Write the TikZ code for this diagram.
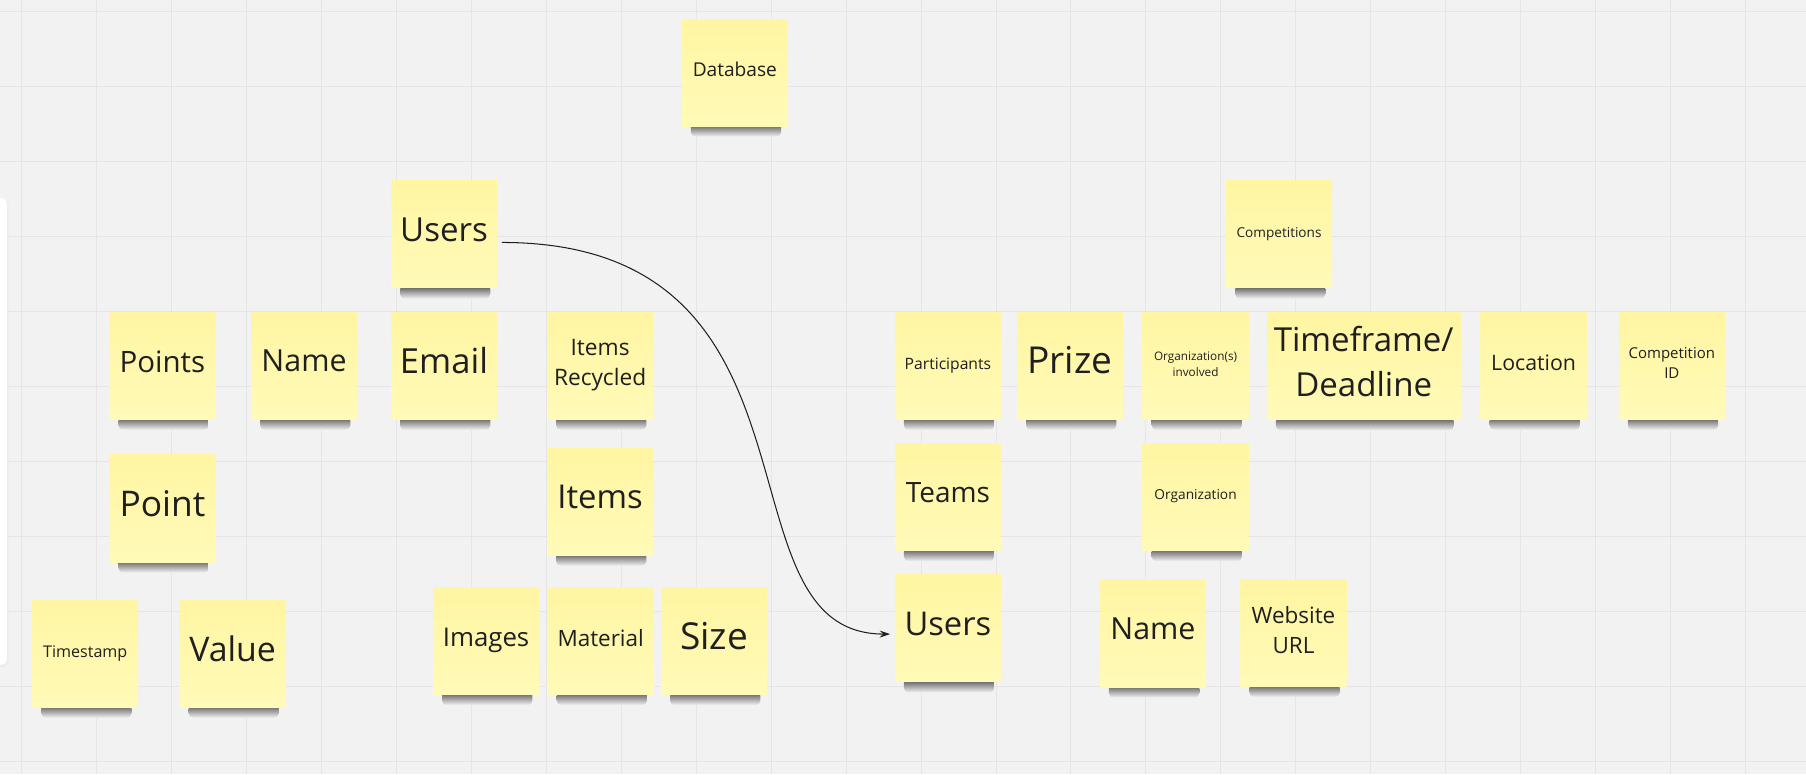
\documentclass[tikz,border=0pt]{standalone}
\usepackage{fontspec}
\setmainfont{Open Sans}
\usetikzlibrary{arrows.meta,backgrounds}
\definecolor{boardbg}{HTML}{F2F2F2}
\definecolor{gridgray}{HTML}{E5E5E5}
\definecolor{notetop}{HTML}{FFF5A2}
\definecolor{notebody}{HTML}{FFFAB8}
\definecolor{notetext}{HTML}{1F1F1F}
\definecolor{shadowgray}{HTML}{4A4A4A}
\tikzset{
  sticky/.style={rectangle, top color=notetop, bottom color=notebody, minimum width=92pt, minimum height=93pt, inner sep=1pt, align=center, text=notetext},
  fs/.style={font={\pgfmathparse{1.34*#1}\fontsize{#1}{\pgfmathresult}\selectfont}, text depth={0.3*#1pt}},
  note shadow/.style={top color=shadowgray, bottom color=boardbg, rounded corners=4pt},
  gridline/.style={draw=gridgray, line width=0.8pt},
  link/.style={draw=notetext, line width=0.9pt, -{Stealth[length=9pt,width=6pt]}},
}
\begin{document}
\begin{tikzpicture}[x=1pt,y=1pt,yscale=-1,xscale=1]
\useasboundingbox (0,0) rectangle (1568,672);

% board and grid
\begin{scope}[on background layer]
\fill[boardbg] (0,0) rectangle (1568,672);
\foreach \gx in {18.4,83.5,...,1568} \draw[gridline] (\gx,0) -- (\gx,672);
\foreach \gy in {10.1,75.2,...,672} \draw[gridline] (0,\gy) -- (1568,\gy);
% side panel
\fill[black!7, rounded corners=5pt] (-12,173) rectangle (7.5,579);
\fill[white, rounded corners=5pt] (-12,172) rectangle (6,577);
\end{scope}

% Sticky notes
\node[sticky, fs=16.6] (db) at (638,63) {Database};
\node[sticky, fs=28.7] (users) at (385.5,203.5) {Users};
\node[sticky, fs=11.8] (comps) at (1110.5,203.5) {Competitions};

\node[sticky, fs=25.6] (points) at (141,317.5) {Points};
\node[sticky, fs=26.4] (name) at (264,317.5) {Name};
\node[sticky, fs=30] (email) at (385.5,317.5) {Email};
\node[sticky, fs=19.7] (recycled) at (521,317.5) {Items\\Recycled};
\node[sticky, fs=13.6] (participants) at (823,317.5) {Participants};
\node[sticky, fs=32.2] (prize) at (929,317.5) {Prize};
\node[sticky, fs=10.2] (orgsinv) at (1038,317.5) {Organization(s)\\involved};
\node[sticky, fs=28.7, minimum width=168pt] (timeframe) at (1184,318) {Timeframe/\\Deadline};
\node[sticky, fs=18.5] (location) at (1331.5,317.5) {Location};
\node[sticky, fs=13] (compid) at (1451.5,317.5) {Competition\\ID};

\node[sticky, fs=30.7] (point) at (141,441.5) {Point};
\node[sticky, fs=28.5] (items) at (521,435.5) {Items};
\node[sticky, fs=24.3] (teams) at (823,431.5) {Teams};
\node[sticky, fs=11.9] (org) at (1038,431.5) {Organization};

\node[sticky, fs=14] (timestamp) at (74,567.5) {Timestamp};
\node[sticky, fs=29.4] (value) at (202,567.5) {Value};
\node[sticky, fs=22.4] (images) at (422,556.5) {Images};
\node[sticky, fs=19.5] (material) at (521.5,556.5) {Material};
\node[sticky, fs=32.2] (size) at (620,556.5) {Size};
\node[sticky, fs=28.4] (members) at (823,545.5) {Users};
\node[sticky, fs=26.4] (orgname) at (1001,550) {Name};
\node[sticky, fs=19.5] (website) at (1123,549.5) {Website\\URL};

% shadows under the notes
\begin{scope}[on background layer]
\foreach \n in {db,users,comps,points,name,email,recycled,participants,prize,orgsinv,timeframe,location,compid,point,items,teams,org,timestamp,value,images,material,size,members,orgname,website}
  \shade[note shadow] ([xshift=8pt,yshift=-3pt]\n.south west) rectangle ([xshift=-6pt,yshift=9pt]\n.south east);
\end{scope}

% Users -> Users
\draw[link, shorten <=4pt, shorten >=4pt] ([yshift=7pt]users.east) .. controls +(300,0) and +(-160,0) .. ([yshift=5pt]members.west);

\end{tikzpicture}
\end{document}
